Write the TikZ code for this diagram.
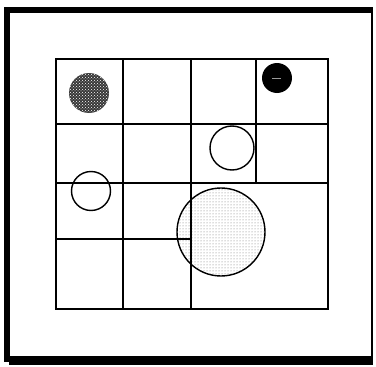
\documentclass[tikz,border=0pt]{standalone}
\usetikzlibrary{patterns}
\begin{document}
\begin{tikzpicture}[x=1pt,y=-1pt,
  gridline/.style={line width=1.3pt, black},
  ring/.style={line width=1.4pt, black},
  framebar/.style={fill=black}]
\useasboundingbox (0,0) rectangle (376,367);
% outer frame
\fill[framebar] (4,7) rectangle (373,13);
\fill[framebar] (4,7) rectangle (10,362);
\fill[framebar] (9,356) rectangle (373,365);
\draw[line width=2pt] (372,8) -- (372,357);
% big stippled circle fill
\coordinate (big) at (221,232);
\fill[white] (big) circle[radius=44];
\fill[pattern=dots, pattern color=black!55] (big) circle[radius=44];
% grid
\draw[gridline] (56,59) rectangle (328,309);
\draw[gridline] (123,59) -- (123,309);
\draw[gridline] (191,59) -- (191,309);
\draw[gridline] (256,59) -- (256,183);
\draw[gridline] (56,124) -- (328,124);
\draw[gridline] (56,183) -- (328,183);
\draw[gridline] (56,239) -- (191,239);
% circles
\draw[ring] (big) circle[radius=44];
\coordinate (dark) at (89,93);
\fill[black!78] (dark) circle[radius=20];
\fill[pattern=crosshatch dots, pattern color=white] (dark) circle[radius=20];
\coordinate (solid) at (277,78);
\fill[black] (solid) circle[radius=15];
\draw[white!60!black, line width=0.5pt] (272,78) -- (281,78);
\coordinate (openA) at (232,148);
\draw[ring] (openA) circle[radius=22];
\coordinate (openB) at (91,191);
\draw[ring] (openB) circle[radius=19.5];
\end{tikzpicture}
\end{document}
